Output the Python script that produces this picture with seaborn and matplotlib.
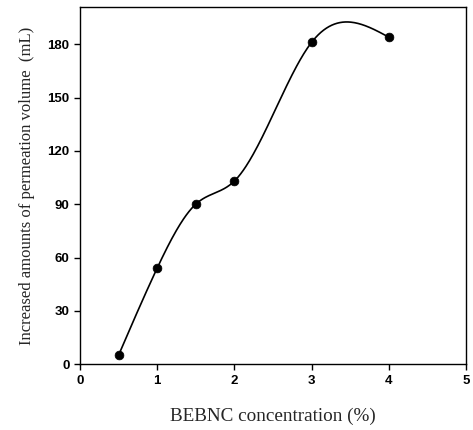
import numpy as np
import pandas as pd
import matplotlib
matplotlib.use("Agg")
import matplotlib.pyplot as plt
import seaborn as sns

concentration = [0.5, 1.0, 1.5, 2.0, 3.0, 4.0]
volume = [5, 54, 90, 103, 181, 184]
x_ticks = [0, 1, 2, 3, 4, 5]
y_ticks = [0, 30, 60, 90, 120, 150, 180]


def natural_spline(x, y, n=300):
    # natural cubic spline through the measured points
    x = np.asarray(x, float)
    y = np.asarray(y, float)
    k = len(x)
    h = np.diff(x)
    A = np.zeros((k, k))
    b = np.zeros(k)
    A[0, 0] = A[-1, -1] = 1
    for i in range(1, k - 1):
        A[i, i - 1] = h[i - 1]
        A[i, i] = 2 * (h[i - 1] + h[i])
        A[i, i + 1] = h[i]
        b[i] = 3 * ((y[i + 1] - y[i]) / h[i] - (y[i] - y[i - 1]) / h[i - 1])
    c = np.linalg.solve(A, b)
    xs = np.linspace(x[0], x[-1], n)
    idx = np.clip(np.searchsorted(x, xs) - 1, 0, k - 2)
    dx = xs - x[idx]
    bb = (y[idx + 1] - y[idx]) / h[idx] - h[idx] * (2 * c[idx] + c[idx + 1]) / 3
    dd = (c[idx + 1] - c[idx]) / (3 * h[idx])
    ys = y[idx] + bb * dx + c[idx] * dx ** 2 + dd * dx ** 3
    return xs, ys


sns.set_style("ticks")
plt.rcParams['font.family'] = ['Liberation Sans', 'DejaVu Sans']

data = pd.DataFrame({'conc': concentration, 'vol': volume})
xs, ys = natural_spline(concentration, volume)
curve = pd.DataFrame({'conc': xs, 'vol': ys})

fig = plt.figure(figsize=(4.73, 4.30), dpi=100)
ax = fig.add_axes([0.169, 0.153, 0.816, 0.831])
sns.lineplot(data=curve, x='conc', y='vol', color='black', linewidth=1.2, ax=ax)
sns.scatterplot(data=data, x='conc', y='vol', color='black', s=40, edgecolor='black', zorder=3, ax=ax)

ax.set_xlim(0, 5)
ax.set_ylim(0, 201)
ax.set_xticks(x_ticks)
ax.set_yticks(y_ticks)
ax.tick_params(direction='out', length=4, width=1, labelsize=9.5, colors='black')
for lab in ax.get_xticklabels() + ax.get_yticklabels():
    lab.set_fontweight('bold')
for sp in ax.spines.values():
    sp.set_visible(True)
    sp.set_color('black')
    sp.set_linewidth(1)

ax.set_xlabel('BEBNC concentration (%)', family='Liberation Serif', fontsize=13.8, labelpad=15)
ax.set_ylabel('Increased amounts of permeation volume  (mL)', family='Liberation Serif', fontsize=12, labelpad=9)

fig.savefig('out.png', dpi=100)
